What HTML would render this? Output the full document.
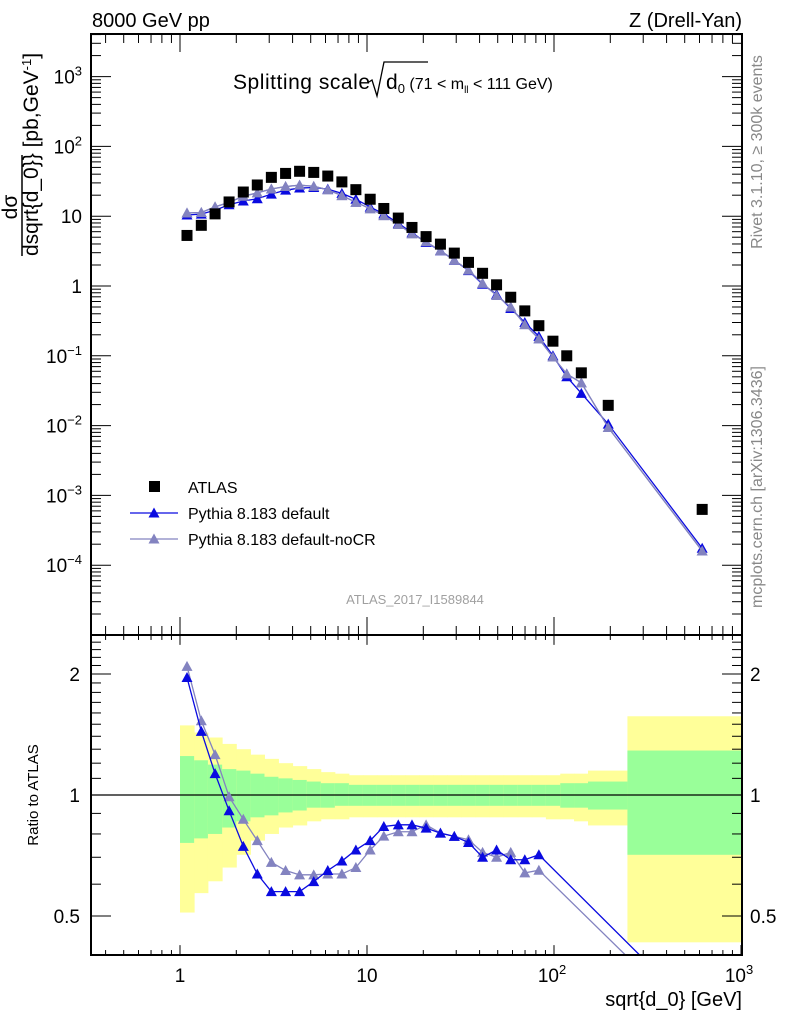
<!DOCTYPE html>
<html><head><meta charset="utf-8"><style>
body{margin:0;background:#fff;}
svg{display:block;font-family:"Liberation Sans",sans-serif;}
</style></head><body>
<svg id="c" width="786" height="1024" xmlns="http://www.w3.org/2000/svg"></svg>
<script>
const binEdges=[1.0,1.19,1.41,1.68,2.0,2.38,2.83,3.36,4.0,4.76,5.66,6.73,8.0,9.51,11.3,13.5,16.0,19.0,22.6,26.9,32.0,38.1,45.3,53.8,64.0,76.1,90.5,108,128,152,247,2000];
const xVals=[1.09,1.30,1.54,1.83,2.18,2.59,3.08,3.67,4.36,5.19,6.17,7.34,8.72,10.4,12.3,14.7,17.4,20.7,24.7,29.3,34.9,41.5,49.3,58.7,69.8,83.0,98.7,117,140,195,620];
const atlasVals=[5.3,7.4,10.8,16,22.2,28,36,41,44,42.4,37.6,31,24,17.5,12.9,9.4,6.9,5.1,3.98,2.96,2.18,1.52,1.04,0.69,0.44,0.27,0.162,0.10,0.057,0.0195,0.00063];
const pyDefault=[10.4,10.7,12.2,14.6,16.5,17.8,20.7,23.6,25.3,25.8,24.4,21.2,17.5,13.5,10.8,7.9,5.8,4.2,3.2,2.34,1.66,1.06,0.76,0.476,0.30,0.19,0.10,0.05,0.029,0.0105,0.000175];
const pyNoCR=[11.1,11.3,13.6,15.8,19.3,21.6,24.5,26.6,27.9,26.8,23.9,19.7,15.8,12.8,10.2,7.6,5.6,4.3,3.2,2.34,1.69,1.09,0.73,0.50,0.28,0.175,0.096,0.055,0.041,0.0094,0.00016];
const ratioDefault=[1.96,1.44,1.13,0.914,0.745,0.636,0.575,0.575,0.575,0.609,0.649,0.685,0.73,0.77,0.835,0.843,0.843,0.827,0.804,0.789,0.762,0.70,0.73,0.69,0.69,0.71,null,null,null,null,0.28];
const ratioNoCR=[2.09,1.53,1.26,0.99,0.87,0.77,0.68,0.649,0.633,0.633,0.636,0.636,0.66,0.73,0.79,0.81,0.81,0.843,0.804,0.789,0.774,0.72,0.70,0.72,0.64,0.65,null,null,null,null,0.26];
const yellowHi=[1.49,1.43,1.39,1.34,1.30,1.26,1.23,1.20,1.18,1.16,1.14,1.13,1.12,1.12,1.12,1.12,1.12,1.12,1.12,1.12,1.12,1.12,1.12,1.12,1.12,1.12,1.12,1.13,1.13,1.15,1.57];
const greenHi=[1.25,1.22,1.19,1.16,1.15,1.13,1.11,1.10,1.09,1.08,1.07,1.07,1.06,1.06,1.06,1.06,1.06,1.06,1.06,1.06,1.06,1.06,1.06,1.06,1.06,1.06,1.06,1.07,1.07,1.08,1.29];
const greenLo=[0.76,0.78,0.80,0.83,0.86,0.88,0.89,0.905,0.915,0.93,0.93,0.94,0.94,0.94,0.94,0.94,0.94,0.94,0.94,0.94,0.94,0.94,0.94,0.94,0.94,0.94,0.94,0.93,0.93,0.92,0.71];
const yellowLo=[0.51,0.57,0.61,0.66,0.71,0.77,0.80,0.83,0.84,0.86,0.87,0.87,0.88,0.88,0.88,0.88,0.88,0.88,0.88,0.88,0.88,0.88,0.88,0.88,0.88,0.88,0.87,0.87,0.86,0.84,0.43];
const mainYTicks=[-4,-3,-2,-1,0,1,2,3];
const mainYLabels=["10<tspan dy='-8' font-size='13'>\u22124</tspan>","10<tspan dy='-8' font-size='13'>\u22123</tspan>","10<tspan dy='-8' font-size='13'>\u22122</tspan>","10<tspan dy='-8' font-size='13'>\u22121</tspan>","1","10","10<tspan dy='-8' font-size='13'>2</tspan>","10<tspan dy='-8' font-size='13'>3</tspan>"];
const xTickVals=[1,10,100,1000];
const xTickLabels=["1","10","10<tspan dy='-8' font-size='13'>2</tspan>","10<tspan dy='-8' font-size='13'>3</tspan>"];
const ratioTicks=[0.5,1,2];
const ratioLabels=["0.5","1","2"];

const L=91,R=742,MT=34,MB=635,RB=955;
const X=v=>180+187*Math.log10(v);
const Y=v=>286-69.8*Math.log10(v);
const YR=v=>795-121*Math.log2(v);
const svg=document.getElementById('c');
const NS="http://www.w3.org/2000/svg";
function el(tag,attrs,parent){const e=document.createElementNS(NS,tag);for(const k in attrs)e.setAttribute(k,attrs[k]);(parent||svg).appendChild(e);return e;}
function txt(x,y,html,attrs,name){const t=el('text',Object.assign({x:x,y:y,'font-size':18,fill:'#000'},attrs||{}));t.innerHTML=html;


return t;}

const defs=el('defs',{});
const cpM=el('clipPath',{id:'cm'},defs);el('rect',{x:L,y:MT,width:R-L,height:MB-MT},cpM);
const cpR=el('clipPath',{id:'cr'},defs);el('rect',{x:L,y:MB,width:R-L,height:RB-MB},cpR);

const gB=el('g',{'clip-path':'url(#cr)'});


for(let i=0;i<yellowHi.length;i++){
  const x0=X(binEdges[i]),x1=X(binEdges[i+1]);
  const y=el('rect',{x:x0,y:YR(yellowHi[i]),width:x1-x0+0.5,height:YR(yellowLo[i])-YR(yellowHi[i]),fill:'#ffff99'},gB);
  
  
  const g=el('rect',{x:x0,y:YR(greenHi[i]),width:x1-x0+0.5,height:YR(greenLo[i])-YR(greenHi[i]),fill:'#99ff99'},gB);
  
  
}
const one=el('line',{x1:L,x2:R,y1:YR(1),y2:YR(1),stroke:'#000','stroke-width':1.3});



function tri(x,y,col,parent,name){const p=el('polygon',{points:`${x-5.5},${y+4.5} ${x+5.5},${y+4.5} ${x},${y-5.5}`,fill:col},parent);

}
function series(vals,col,Yf,clip,name){
  const g=el('g',{'clip-path':clip});
  
  
  const pts=[];vals.forEach((v,i)=>{if(v!=null)pts.push([X(xVals[i]),Yf(v)]);});
  el('polyline',{points:pts.map(p=>p.join(',')).join(' '),fill:'none',stroke:col,'stroke-width':1.3},g);
  pts.forEach(p=>tri(p[0],p[1],col,g,name+'-point'));
}
series(pyNoCR,'#8383c0',Y,'url(#cm)','pythia-nocr-main');
series(pyDefault,'#0a0ae0',Y,'url(#cm)','pythia-default-main');
series(ratioNoCR,'#8383c0',YR,'url(#cr)','pythia-nocr-ratio');
series(ratioDefault,'#0a0ae0',YR,'url(#cr)','pythia-default-ratio');
series(pyNoCR,'#8383c0',Y,'url(#cm)','pythia-nocr-main-top');
const gA=el('g',{'clip-path':'url(#cm)'});


atlasVals.forEach((v,i)=>{const r=el('rect',{x:X(xVals[i])-5.5,y:Y(v)-5.5,width:11,height:11,fill:'#000'},gA);

});

const fr1=el('rect',{x:L,y:MT,width:R-L,height:MB-MT,fill:'none',stroke:'#000','stroke-width':2});


const fr2=el('rect',{x:L,y:MB,width:R-L,height:RB-MB,fill:'none',stroke:'#000','stroke-width':2});



const tk=el('g',{stroke:'#000','stroke-width':1});


for(let d=-1;d<3;d++)for(let m=1;m<10;m++){const v=Math.pow(10,d)*m;const x=X(v);if(x<L||x>R)continue;const len=m==1?18:9;
  el('line',{x1:x,x2:x,y1:MT,y2:MT+len},tk);el('line',{x1:x,x2:x,y1:MB,y2:MB-len},tk);el('line',{x1:x,x2:x,y1:MB,y2:MB+len*0.55},tk);el('line',{x1:x,x2:x,y1:RB,y2:RB-len*0.55},tk);}
el('line',{x1:X(1000),x2:X(1000),y1:RB,y2:RB-10},tk);
for(let d=-5;d<4;d++)for(let m=1;m<10;m++){const v=Math.pow(10,d)*m;const y=Y(v);if(y<MT||y>MB)continue;const len=m==1?20:10;
  el('line',{x1:L,x2:L+len,y1:y,y2:y},tk);el('line',{x1:R,x2:R-len,y1:y,y2:y},tk);}
for(let v=0.4;v<=2.5;v+=0.1){const y=YR(v);if(y<MB||y>RB)continue;const maj=Math.abs(v-0.5)<0.01||Math.abs(v-1)<0.01||Math.abs(v-2)<0.01;const len=maj?20:10;
  el('line',{x1:L,x2:L+len,y1:y,y2:y},tk);el('line',{x1:R,x2:R-len,y1:y,y2:y},tk);}

mainYTicks.forEach((d,i)=>txt(82,Y(Math.pow(10,d))+7,mainYLabels[i],{'text-anchor':'end','font-size':19},'y-tick-label'));
xTickVals.forEach((v,i)=>txt(X(v)+(i>=2?-2:0),982,xTickLabels[i],{'text-anchor':'middle','font-size':19},'x-tick-label'));
ratioTicks.forEach((v,i)=>{txt(80,YR(v)+7,ratioLabels[i],{'text-anchor':'end','font-size':19},'ratio-tick-label-left');txt(750,YR(v)+7,ratioLabels[i],{'font-size':19},'ratio-tick-label-right');});
txt(92,27,"8000 GeV pp",{'font-size':20},'energy-label');
txt(742,27,"Z (Drell-Yan)",{'font-size':20,'text-anchor':'end'},'process-label');
txt(233,89,"Splitting scale",{'font-size':21,'textLength':137},'plot-title');
el('polyline',{points:"369,82 372,80 377,96 384,62 428,62",fill:'none',stroke:'#000','stroke-width':1.3});
txt(386,89,"d<tspan font-size='13' dy='4'>0</tspan><tspan dy='-4' font-size='16'> (71 &lt; m</tspan><tspan font-size='10' dy='4'>ll</tspan><tspan dy='-4' font-size='16'> &lt; 111 GeV)</tspan>",{'font-size':21},'plot-title-formula');
txt(742,1006,"sqrt{d_0} [GeV]",{'font-size':20,'text-anchor':'end'},'x-axis-title');
txt(415,604,"ATLAS_2017_I1589844",{'font-size':13,'fill':'#a0a0a0','text-anchor':'middle'},'analysis-id');
txt(0,0,"Rivet 3.1.10, \u2265 300k events",{'font-size':16,'fill':'#888','transform':'translate(762,152) rotate(-90)','text-anchor':'middle'},'rivet-label');
txt(0,0,"mcplots.cern.ch [arXiv:1306.3436]",{'font-size':16,'fill':'#888','transform':'translate(762,487) rotate(-90)','text-anchor':'middle'},'mcplots-label');
txt(0,0,"Ratio to ATLAS",{'font-size':15,'transform':'translate(38,795) rotate(-90)','text-anchor':'middle'},'ratio-axis-title');
txt(0,0,"d\u03c3",{'font-size':21,'transform':'translate(17,207) rotate(-90)','text-anchor':'middle'},'y-title-num');
el('line',{x1:22,x2:22,y1:256,y2:155,stroke:'#000','stroke-width':1.5});
txt(0,0,"dsqrt{d_0}} [pb,GeV<tspan font-size='13' dy='-7'>-1</tspan><tspan dy='7'>]</tspan>",{'font-size':21,'transform':'translate(38,256) rotate(-90)','text-anchor':'start'},'y-axis-title');

const lg=el('g',{});


const lsq=el('rect',{x:149,y:481,width:11,height:11,fill:'#000'},lg);


txt(188,493,"ATLAS",{'font-size':16},'legend-atlas');
el('line',{x1:130,x2:178,y1:513,y2:513,stroke:'#0a0ae0','stroke-width':1.3},lg);
tri(154,513,'#0a0ae0',lg,'legend-default-marker');
txt(188,519,"Pythia 8.183 default",{'font-size':16},'legend-default');
el('line',{x1:130,x2:178,y1:539,y2:539,stroke:'#8383c0','stroke-width':1.3},lg);
tri(154,539,'#8383c0',lg,'legend-nocr-marker');
txt(188,545,"Pythia 8.183 default-noCR",{'font-size':16},'legend-nocr');
</script>
</body></html>
